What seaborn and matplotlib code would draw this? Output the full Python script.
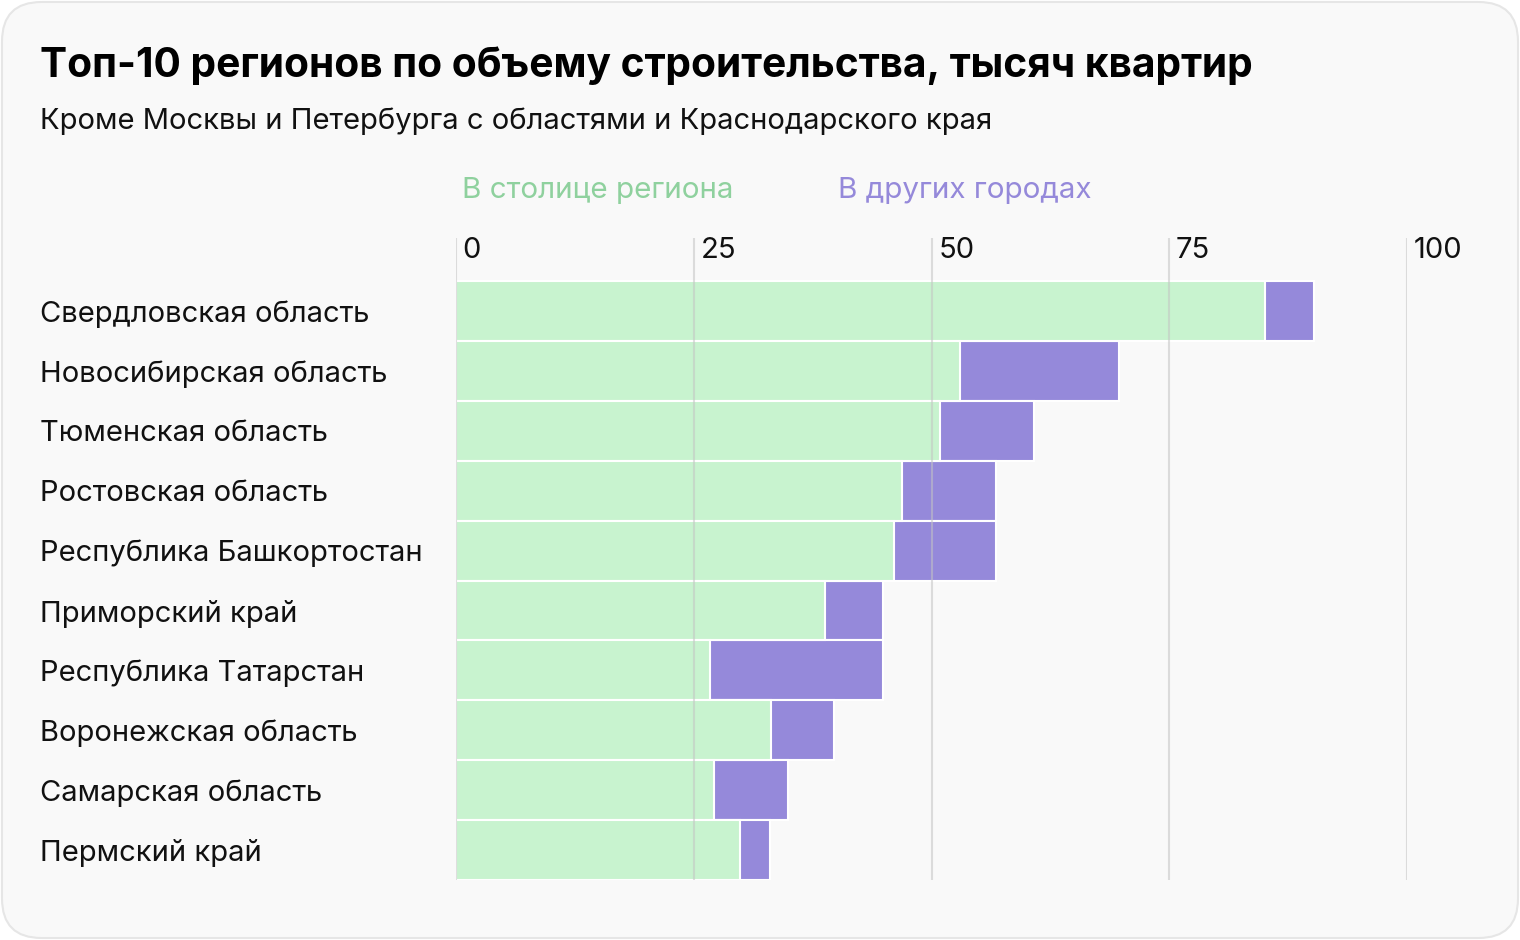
import pandas as pd
import matplotlib.pyplot as plt
import seaborn as sns
from matplotlib.patches import FancyBboxPatch
from matplotlib.transforms import blended_transform_factory

regions = ["Свердловская область", "Новосибирская область", "Тюменская область",
           "Ростовская область", "Республика Башкортостан", "Приморский край",
           "Республика Татарстан", "Воронежская область", "Самарская область",
           "Пермский край"]
capital = [85.1, 53.0, 50.9, 46.9, 46.1, 38.8, 26.7, 33.1, 27.1, 29.9]
other = [5.1, 16.7, 9.9, 9.9, 10.7, 6.1, 18.2, 6.6, 7.8, 3.1]
ticks = [0, 25, 50, 75, 100]

green = "#c8f3cf"
purple = "#9589da"

df = pd.DataFrame({"region": regions, "capital": capital, "other": other})
df["total"] = df["capital"] + df["other"]

sns.set_theme(style="white")
plt.rcParams["font.family"] = ["Inter", "DejaVu Sans"]

fig = plt.figure(figsize=(15.2, 9.4), dpi=100)
fig.patch.set_facecolor("white")
# rounded light card behind everything
card = FancyBboxPatch((2 / 1520, 2 / 940), 1516 / 1520, 936 / 940,
                      boxstyle="round,pad=0,rounding_size=0.026",
                      transform=fig.transFigure, facecolor="#f9f9f9",
                      edgecolor="#e6e6e6", linewidth=1.5, mutation_aspect=1520 / 940,
                      zorder=-10)
fig.add_artist(card)

ax = fig.add_axes([456 / 1520, 1 - 880 / 940, (1407 - 456) / 1520, 642 / 940])
ax.set_facecolor("none")

# stacked look: totals in purple, capital share drawn over them
sns.barplot(data=df, y="region", x="total", color=purple, width=1.0,
            edgecolor="white", linewidth=1.5, saturation=1, ax=ax, zorder=1)
sns.barplot(data=df, y="region", x="capital", color=green, width=1.0,
            edgecolor="white", linewidth=1.5, saturation=1, ax=ax, zorder=2)

ax.set_xlim(0, 100)
ax.set_ylim(9.5, -1.22)
for t in ticks:
    ax.axvline(t, color="#c4c4c4", alpha=0.55, linewidth=1.5, zorder=3)

trans = blended_transform_factory(ax.transData, ax.transAxes)
for t in ticks:
    ax.text(t + 0.7, 1 - 12 / 642, str(t), transform=trans, ha="left", va="center",
            fontsize=21, color="#111111")

ax.set_xticks([])
ax.set_xlabel("")
ax.set_ylabel("")
ax.tick_params(axis="y", length=0, pad=416 * 0.72, labelsize=21, labelcolor="#111111")
for lbl in ax.get_yticklabels():
    lbl.set_ha("left")
for s in ax.spines.values():
    s.set_visible(False)

fig.text(40 / 1520, 1 - 66 / 940, "Топ-10 регионов по объему строительства, тысяч квартир",
         fontsize=29.3, fontweight="bold", color="#000000", va="center", ha="left")
fig.text(40 / 1520, 1 - 121 / 940, "Кроме Москвы и Петербурга с областями и Краснодарского края",
         fontsize=21, color="#111111", va="center", ha="left")
fig.text(462 / 1520, 1 - 191 / 940, "В столице региона", fontsize=21.3,
         color="#8fd19e", va="center", ha="left")
fig.text(838 / 1520, 1 - 191 / 940, "В других городах", fontsize=21.3,
         color=purple, va="center", ha="left")

plt.savefig("out.png", dpi=100)
plt.close()
